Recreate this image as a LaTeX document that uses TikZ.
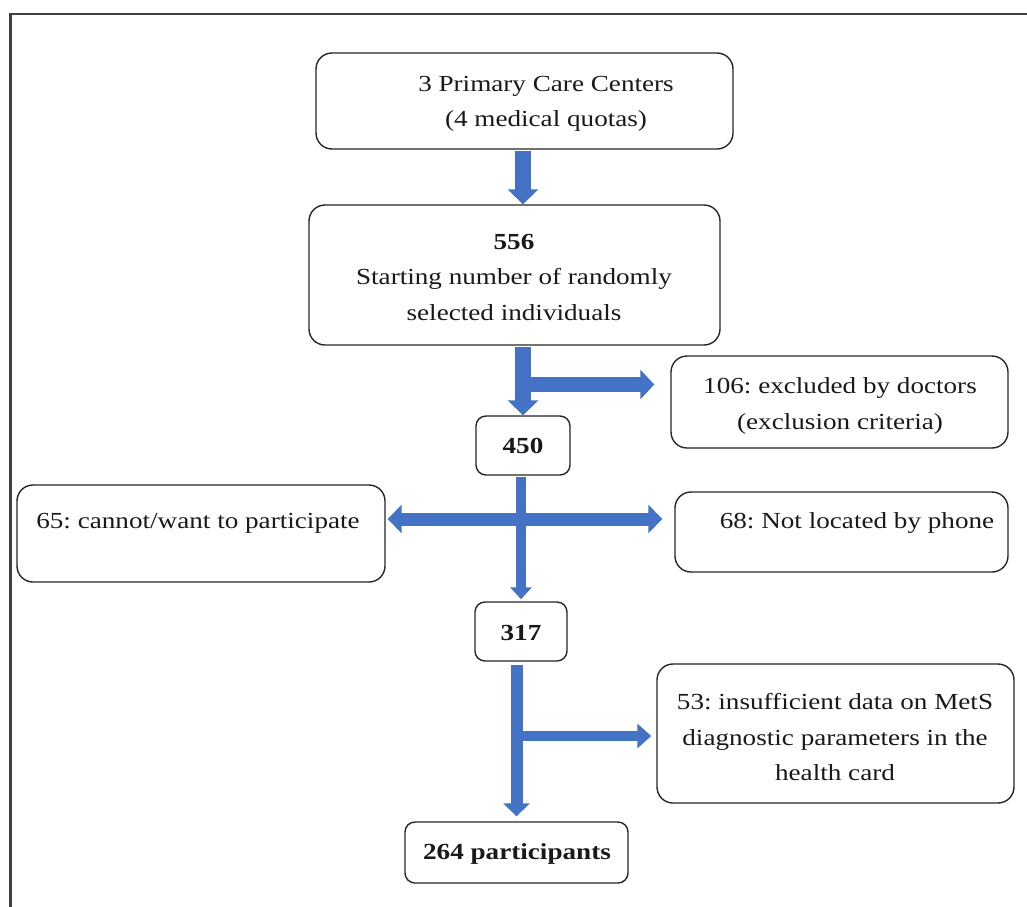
\documentclass[tikz,border=0pt]{standalone}
\usepackage{fontspec}
\setmainfont{Liberation Serif}[FakeStretch=1.18]
\frenchspacing
\usetikzlibrary{arrows.meta}
\definecolor{arrowblue}{HTML}{4472C4}
\definecolor{boxline}{HTML}{262626}
\definecolor{frameline}{HTML}{404040}
\begin{document}
\begin{tikzpicture}[x=1pt,y=-1pt,
  box/.style={draw=boxline, line width=1.4pt, rounded corners=16pt, inner sep=0pt},
  lbl/.style={align=center, font=\fontsize{23}{35.5}\selectfont, inner sep=0pt, text=black!90},
  blockarrow/.style n args={3}{draw=arrowblue, line width=#1pt, -{Triangle[length=#2pt, width=#3pt, fill=arrowblue]}}]
\path[use as bounding box] (0,0) rectangle (1027,906);
% outer frame (only top and left edges are inside the page)
\draw[frameline, line width=2.5pt] (10.5,920) -- (10.5,14) -- (1040,14);
% boxes
\node[box, minimum width=417pt, minimum height=96pt] (b1) at (524.5,101) {};
\node[box, minimum width=411pt, minimum height=140pt] (b556) at (514.5,275) {};
\node[box, minimum width=337pt, minimum height=92pt] (b106) at (839.5,402) {};
\node[box, minimum width=94pt, minimum height=59pt, rounded corners=10pt] (b450) at (523,445.5) {};
\node[box, minimum width=368pt, minimum height=97pt] (b65) at (201,533.5) {};
\node[box, minimum width=333pt, minimum height=80pt] (b68) at (841.5,532) {};
\node[box, minimum width=92pt, minimum height=59pt, rounded corners=10pt] (b317) at (521,631.5) {};
\node[box, minimum width=357pt, minimum height=139pt] (b53) at (835.5,733.5) {};
\node[box, minimum width=223pt, minimum height=61pt, rounded corners=10pt] (b264) at (516.5,852.5) {};
% texts
\node[lbl] (t1) at (546,104) {3 Primary Care Centers\\(4 medical quotas)};
\node[lbl] (t556) at (514,277) {\textbf{556}\\Starting number of randomly\\selected individuals};
\node[lbl] (t106) at (840,406) {106: excluded by doctors\\(exclusion criteria)};
\node[lbl] (t450) at (523,446) {\textbf{450}};
\node[lbl] (t65) at (198,523) {65: cannot/want to participate};
\node[lbl] (t68) at (857,523) {68: Not located by phone};
\node[lbl] (t317) at (521,633) {\textbf{317}};
\node[lbl] (t53) at (835,737) {53: insufficient data on MetS\\diagnostic parameters in the\\health card};
\node[lbl] (t264) at (517,854) {\textbf{264 participants}};
% junction points on the main flow
\coordinate (j1) at (528,384.5);
\coordinate (j2) at (545,519);
\coordinate (j3) at (516,519);
\coordinate (j4) at (516,736);
% block arrows
\draw[blockarrow={16}{15}{30}, shorten <=1pt] (b1.south -| 523,0) -- (b556.north -| 523,0);
\draw[blockarrow={16}{15}{30}, shorten <=1pt] (b450.north |- b556.south) -- (b450.north);
\draw[blockarrow={15}{14}{29}, shorten >=16pt] (j1) -- (j1 -| b106.west);
\draw[blockarrow={10}{12}{21}, shorten <=1pt, shorten >=2pt] (b317.north |- b450.south) -- (b317.north);
\draw[blockarrow={13}{14}{28}, shorten >=2pt] (j2) -- (j2 -| b65.east);
\draw[blockarrow={13}{14}{28}, shorten >=12pt] (j3) -- (j3 -| b68.west);
\draw[blockarrow={12}{13}{26}, shorten <=3pt, shorten >=5pt] (b264.north |- b317.south) -- (b264.north);
\draw[blockarrow={10}{14}{24}, shorten >=5pt] (j4) -- (j4 -| b53.west);
\end{tikzpicture}
\end{document}
